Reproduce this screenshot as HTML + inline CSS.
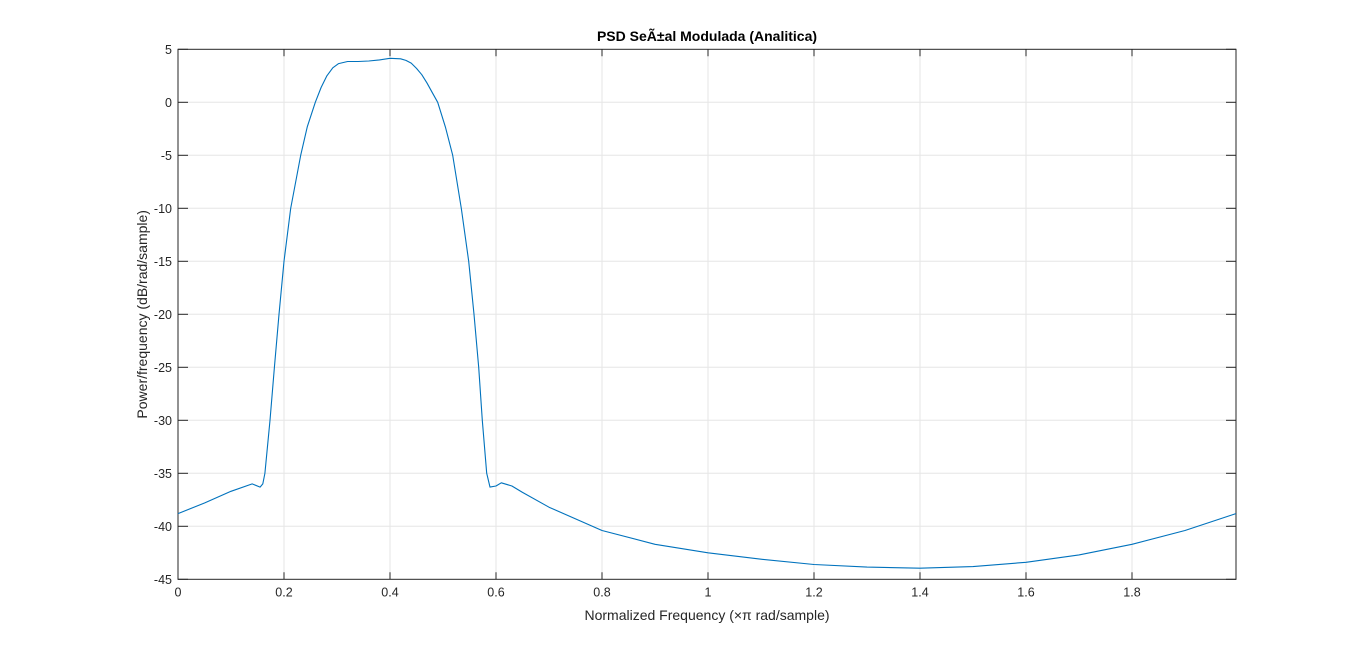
<!DOCTYPE html>
<html><head><meta charset="utf-8"><style>
body{margin:0;background:#fff;}
svg{display:block;font-family:"Liberation Sans",Arial,sans-serif;}
</style></head><body>
<svg id="chart" width="1366" height="652"></svg>
<script>
const xTicks=[0,0.2,0.4,0.6,0.8,1,1.2,1.4,1.6,1.8];
const xTickLabels=["0","0.2","0.4","0.6","0.8","1","1.2","1.4","1.6","1.8"];
const yTicks=[5,0,-5,-10,-15,-20,-25,-30,-35,-40,-45];
const freq=[0,0.05,0.1,0.14,0.155,0.16,0.164,0.1736,0.1818,0.1906,0.2,0.2126,0.2315,0.244,0.259,0.27,0.281,0.292,0.303,0.32,0.34,0.36,0.38,0.4,0.42,0.43,0.44,0.45,0.46,0.47,0.48,0.49,0.505,0.5183,0.5346,0.5484,0.5585,0.5673,0.5742,0.5824,0.5887,0.6,0.61,0.63,0.65,0.7,0.8,0.9,1.0,1.1,1.2,1.3,1.4,1.5,1.6,1.7,1.8,1.9,1.996];
const psd=[-38.8,-37.8,-36.7,-36.0,-36.3,-36.0,-35,-30,-25,-20,-15,-10,-5,-2.3,0,1.4,2.5,3.25,3.65,3.85,3.85,3.9,4.0,4.15,4.1,3.95,3.7,3.2,2.6,1.8,0.9,0,-2.4,-5,-10,-15,-20,-25,-30,-35,-36.3,-36.2,-35.9,-36.2,-36.8,-38.2,-40.4,-41.7,-42.5,-43.1,-43.6,-43.85,-43.95,-43.8,-43.4,-42.7,-41.7,-40.4,-38.8];
const NS="http://www.w3.org/2000/svg";
const svg=document.getElementById('chart');
const L=178,R=1236,T=49.3,B=579.3;
const xs=v=>L+v*530;
const ys=v=>T+(5-v)*(B-T)/50;
function mk(t,a){const e=document.createElementNS(NS,t);for(const k in a)e.setAttribute(k,a[k]);svg.appendChild(e);return e;}
let bg=mk('rect',{x:L,y:T,width:R-L,height:B-T,fill:'#fff'});


xTicks.forEach((v,i)=>{
 const x=xs(v);
 if(i>0){let g=mk('line',{x1:x,x2:x,y1:T,y2:B,stroke:'#e6e6e6','stroke-width':1});
 
 }
 mk('line',{x1:x,x2:x,y1:B,y2:B-7,stroke:'#262626'});
 mk('line',{x1:x,x2:x,y1:T,y2:T+7,stroke:'#262626'});
 let t=mk('text',{x:x,y:B+17,'text-anchor':'middle','font-size':12.5,fill:'#262626'});
 t.textContent=xTickLabels[i];
 
 
});
yTicks.forEach(v=>{
 const y=ys(v);
 if(v!==5&&v!==-45){let g=mk('line',{x1:L,x2:R,y1:y,y2:y,stroke:'#e6e6e6','stroke-width':1});
 
 }
 mk('line',{x1:L,x2:L+10,y1:y,y2:y,stroke:'#262626'});
 mk('line',{x1:R,x2:R-10,y1:y,y2:y,stroke:'#262626'});
 let t=mk('text',{x:L-6,y:y+4.5,'text-anchor':'end','font-size':12.5,fill:'#262626'});
 t.textContent=String(v);
 
 
});
let fr=mk('rect',{x:L,y:T,width:R-L,height:B-T,fill:'none',stroke:'#262626','stroke-width':1});


let d=freq.map((f,i)=>(i?'L':'M')+xs(f).toFixed(1)+','+ys(psd[i]).toFixed(1)).join(' ');
let p=mk('path',{d:d,fill:'none',stroke:'#0072bd','stroke-width':1.1,'stroke-linejoin':'round'});


let ti=mk('text',{x:(L+R)/2,y:41,'text-anchor':'middle','font-size':14,'font-weight':'bold',fill:'#000'});
ti.textContent='PSD SeÃ±al Modulada (Analitica)';


let xl=mk('text',{x:(L+R)/2,y:620,'text-anchor':'middle','font-size':14,fill:'#262626'});
xl.textContent='Normalized Frequency  (\u00d7\u03c0 rad/sample)';


let yl=mk('text',{x:0,y:0,'text-anchor':'middle','font-size':14,fill:'#262626',transform:'translate(147,'+((T+B)/2)+') rotate(-90)'});
yl.textContent='Power/frequency (dB/rad/sample)';


</script>
</body></html>
